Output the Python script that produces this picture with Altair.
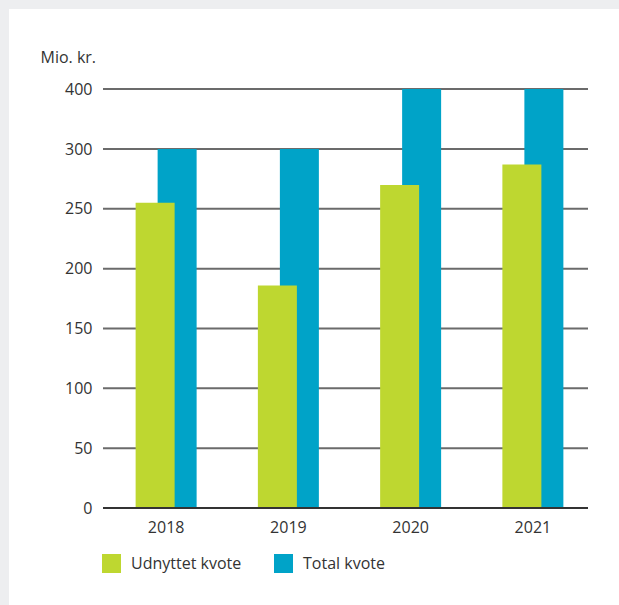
import altair as alt
import pandas as pd

years = ["2018", "2019", "2020", "2021"]
udnyttet = [255, 186, 270, 287]
total = [300, 300, 400, 400]
series_names = ["Udnyttet kvote", "Total kvote"]
colors = ["#bed730", "#00a3c8"]
y_ticks = [0, 50, 100, 150, 200, 250, 300, 400]

df = pd.DataFrame({
    "year": years * 2,
    "value": udnyttet + total,
    "series": [series_names[0]] * 4 + [series_names[1]] * 4,
})
grid_df = pd.DataFrame({"tick": y_ticks[1:]})
zero_df = pd.DataFrame({"tick": [0]})

W, H = 485, 419
FONT = "Open Sans"
FS = 16
GRAY = "#edeef0"
TXT = "#333333"

x_enc = alt.X("year:N", scale=alt.Scale(range=[2, 491], paddingInner=0, paddingOuter=0),
              axis=alt.Axis(title=None, labelAngle=0, ticks=False, domain=False,
                            labelFontSize=FS, labelColor=TXT, labelPadding=11, labelFont=FONT))
y_scale = alt.Scale(domain=[0, 300, 400], range=[H, 60, 0])
y_axis = alt.Axis(values=y_ticks, title="Mio. kr.", titleAngle=0, titleX=-63, titleY=-27,
                  titleAlign="left", titleBaseline="alphabetic", titleFontSize=FS,
                  titleFontWeight="normal", titleColor=TXT, titleFont=FONT,
                  ticks=False, domain=False, grid=False,
                  labelFontSize=FS, labelColor=TXT, labelPadding=11, labelFont=FONT)
color_enc = alt.Color("series:N",
                      scale=alt.Scale(domain=series_names, range=colors),
                      legend=alt.Legend(title=None, orient="none", legendX=-1, legendY=465,
                                        direction="horizontal", symbolType="square",
                                        symbolSize=361, symbolStrokeWidth=0,
                                        labelFontSize=FS, labelColor=TXT,
                                        labelFont=FONT, labelOffset=10,
                                        columnPadding=32))

one = pd.DataFrame({"a": [0]})
strip_top = alt.Chart(one).mark_rect(color=GRAY).encode(
    x=alt.value(-103), x2=alt.value(W + 31), y=alt.value(-89), y2=alt.value(-80))
strip_left = alt.Chart(one).mark_rect(color=GRAY).encode(
    x=alt.value(-103), x2=alt.value(-94), y=alt.value(-89), y2=alt.value(H + 97))

grid = alt.Chart(grid_df).mark_rule(color="#6b6b6b", strokeWidth=2).encode(
    y=alt.Y("tick:Q", scale=y_scale, axis=y_axis), x=alt.value(0), x2=alt.value(W))
zero = alt.Chart(zero_df).mark_rule(color="#333333", strokeWidth=2).encode(
    y=alt.Y("tick:Q", scale=y_scale), x=alt.value(0), x2=alt.value(W))

base = alt.Chart(df)
blue = base.transform_filter(alt.datum.series == series_names[1]).mark_bar(
    width=39, xOffset=11).encode(
    x=x_enc, y=alt.Y("value:Q", scale=y_scale), color=color_enc)
green = base.transform_filter(alt.datum.series == series_names[0]).mark_bar(
    width=39, xOffset=-11).encode(
    x=x_enc, y=alt.Y("value:Q", scale=y_scale), color=color_enc)

chart = alt.layer(strip_top, strip_left, grid, blue, green, zero).properties(
    width=W, height=H,
    autosize=alt.AutoSizeParams(type="none"),
    padding={"left": 103, "top": 89, "right": 31, "bottom": 97},
    background="white",
).configure_view(stroke=None)

chart.save("out.html", embed_options={"renderer": "svg", "actions": False})
